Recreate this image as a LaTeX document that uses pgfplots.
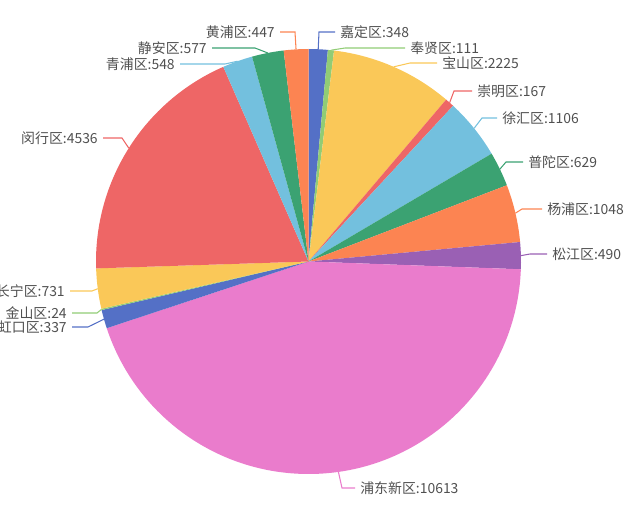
\documentclass[border=0pt]{standalone}
\usepackage{fontspec}
\usepackage{pgfplots}
\usepackage{pgfplotstable}
\pgfplotsset{compat=1.18}
\newfontfamily\cjk{Noto Sans CJK SC}

\definecolor{c0}{HTML}{5470C6}
\definecolor{c1}{HTML}{91CC75}
\definecolor{c2}{HTML}{FAC858}
\definecolor{c3}{HTML}{EE6666}
\definecolor{c4}{HTML}{73C0DE}
\definecolor{c5}{HTML}{3BA272}
\definecolor{c6}{HTML}{FC8452}
\definecolor{c7}{HTML}{9A60B4}
\definecolor{c8}{HTML}{EA7CCC}
\definecolor{labelgray}{HTML}{505050}

% slices clockwise from 12 o'clock; ex/ey = elbow of leader line, hx = end of it (pixels)
\pgfplotstableread{
name value col ex ey hx side
嘉定区 348 c0 319 32 335 1
奉贤区 111 c1 345 48 405 1
宝山区 2225 c2 410 63 437 1
崇明区 167 c3 454 91 472 1
徐汇区 1106 c4 482 118 497 1
普陀区 629 c5 506 162 523 1
杨浦区 1048 c6 522 209 542 1
松江区 490 c7 530 254 547 1
浦东新区 10613 c8 342 488 355 1
虹口区 337 c0 88 327 72 0
金山区 24 c1 97 313 72 0
长宁区 731 c2 92 291 70 0
闵行区 4536 c3 122 138 103 0
青浦区 548 c4 225 64 180 0
静安区 577 c5 255 48 212 0
黄浦区 447 c6 295 32 280 0
}\piedata

\def\cx{308.5}
\def\cy{261.5}
\def\rpx{212.5}
\def\R{5.3125cm}

\begin{document}
\begin{tikzpicture}
\path[use as bounding box, clip] (0,0) rectangle (16cm,12.875cm);
\begin{axis}[
    at={(0,0)}, anchor=south west,
    scale only axis, width=16cm, height=12.875cm,
    xmin=0, xmax=640, ymin=0, ymax=515,
    y dir=reverse, hide axis, clip=false,
]
\pgfplotsextra{
  \pgfplotstablegetrowsof{\piedata}
  \pgfmathtruncatemacro\nrows{\pgfplotsretval-1}
  % total in thousands (keeps pgfmath in range)
  \gdef\tot{0}
  \foreach \i in {0,...,\nrows}{
    \pgfplotstablegetelem{\i}{value}\of\piedata
    \pgfmathsetmacro\t{\tot+\pgfplotsretval/1000}
    \xdef\tot{\t}
  }
  % slices
  \gdef\cum{0}
  \foreach \i in {0,...,\nrows}{
    \pgfplotstablegetelem{\i}{value}\of\piedata \let\sval\pgfplotsretval
    \pgfplotstablegetelem{\i}{col}\of\piedata \let\scol\pgfplotsretval
    \pgfmathsetmacro\as{90-360*\cum/\tot}
    \pgfmathsetmacro\ae{90-360*(\cum+\sval/1000)/\tot}
    \fill[\scol] (axis cs:\cx,\cy) -- ++(\as:\R)
      arc[start angle=\as, end angle=\ae, radius=\R] -- cycle;
    \pgfmathsetmacro\n{\cum+\sval/1000}
    \xdef\cum{\n}
  }
  % leader lines and labels
  \gdef\cum{0}
  \foreach \i in {0,...,\nrows}{
    \pgfplotstablegetelem{\i}{name}\of\piedata \let\sname\pgfplotsretval
    \pgfplotstablegetelem{\i}{value}\of\piedata \let\sval\pgfplotsretval
    \pgfplotstablegetelem{\i}{col}\of\piedata \let\scol\pgfplotsretval
    \pgfplotstablegetelem{\i}{ex}\of\piedata \let\ex\pgfplotsretval
    \pgfplotstablegetelem{\i}{ey}\of\piedata \let\ey\pgfplotsretval
    \pgfplotstablegetelem{\i}{hx}\of\piedata \let\hx\pgfplotsretval
    \pgfplotstablegetelem{\i}{side}\of\piedata \let\side\pgfplotsretval
    \pgfmathsetmacro\am{90-360*(\cum+\sval/2000)/\tot}
    \pgfmathsetmacro\sx{\cx+\rpx*cos(\am)}
    \pgfmathsetmacro\sy{\cy-\rpx*sin(\am)}
    \draw[\scol, line width=0.75pt] (axis cs:\sx,\sy) -- (axis cs:\ex,\ey) -- (axis cs:\hx,\ey);
    \ifnum\side=1
      \node[anchor=west, inner sep=0pt, text=labelgray, font=\cjk\fontsize{9.9}{12}\selectfont]
        at (axis cs:\hx+5,\ey) {\sname:\sval};
    \else
      \node[anchor=east, inner sep=0pt, text=labelgray, font=\cjk\fontsize{9.9}{12}\selectfont]
        at (axis cs:\hx-5,\ey) {\sname:\sval};
    \fi
    \pgfmathsetmacro\n{\cum+\sval/1000}
    \xdef\cum{\n}
  }
}
\end{axis}
\end{tikzpicture}
\end{document}
